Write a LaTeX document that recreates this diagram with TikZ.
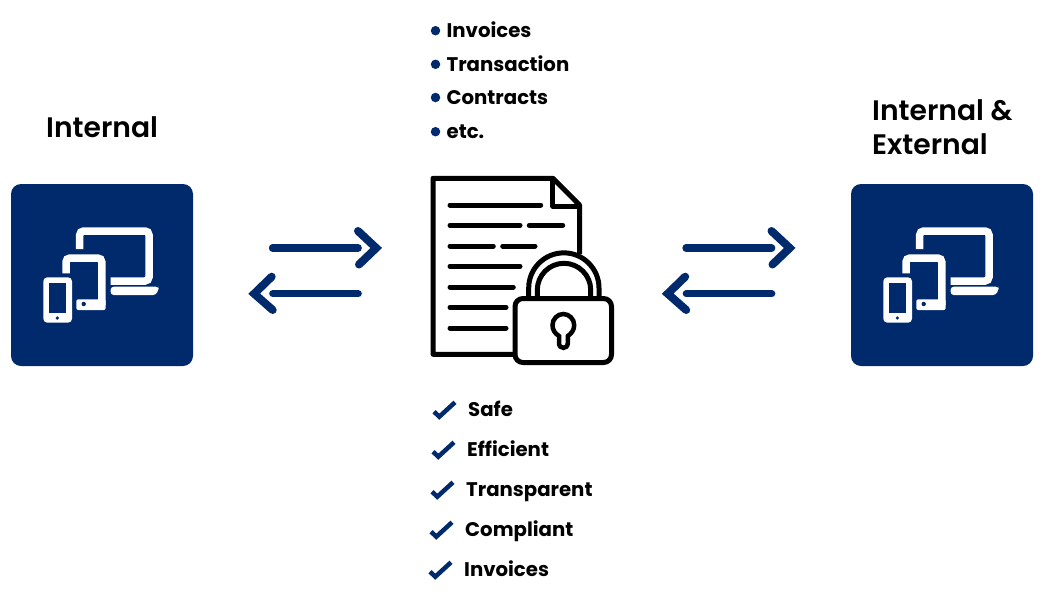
\documentclass[tikz,border=0pt]{standalone}
\usepackage{fontspec}
\setmainfont{Poppins}
\newfontfamily\titlefont{Poppins SemiBold}
\usetikzlibrary{positioning}
\definecolor{navy}{HTML}{002A6C}

\tikzset{
    devices/.pic={
        % Laptop
        \draw[white, line width=7.5pt, rounded corners=4pt] (-22.3,-26) -- (-22.3,-44) -- (47,-44) -- (47,6) -- (8.7,6);
        \fill[white, rounded corners=3pt] (8.7,11.7) -- (56.7,11.7) -- (56.7,14) -- (54,20) -- (8.7,20) -- cycle;
        % Tablet
        \draw[white, line width=7.5pt, rounded corners=4pt] (-36,-1.7) -- (-36,-17) -- (-0.2,-17) -- (-0.2,30);
        \fill[white, rounded corners=2pt] (-25.7,24.3) rectangle (3.7,35);
        \fill[navy] (-18.3,29) circle (2.2pt);
        % Phone
        \fill[white, rounded corners=4pt] (-58.7,2.3) rectangle (-30,47.7);
        \fill[navy] (-52.7,8.3) rectangle (-36,38.3);
        \fill[navy] (-44.7,43) circle (1.8pt);
    }
}

\begin{document}
\begin{tikzpicture}[
    x=1pt, y=-1pt,
    devicebox/.style={fill=navy, minimum size=182pt, rounded corners=10pt, inner sep=0pt},
    titletext/.style={font=\titlefont\fontsize{28.2}{34}\selectfont, align=left, inner sep=0pt, anchor=west},
    itemtext/.style={font=\bfseries\fontsize{19.7}{24}\selectfont, inner sep=0pt, text height=14pt, text depth=0pt, anchor=west},
    bulletdot/.style={circle, fill=navy, minimum size=9.5pt, inner sep=0pt},
    shaft/.style={navy, line width=7.3pt, line cap=round},
    chevron/.style={navy, line width=8pt, line cap=round, miter limit=10},
    docline/.style={line width=5pt, line cap=round},
    outline/.style={line width=5pt, line join=round},
    checkmark/.style={navy, line width=4.5pt, line join=miter}
]
\useasboundingbox (0,0) rectangle (1044,608);

% Device boxes
\node[devicebox] (internalbox) at (102,275) {};
\node[devicebox] (externalbox) at (942,275) {};
\pic at (internalbox) {devices};
\pic at (externalbox) {devices};

% Titles
\node[titletext] (internal) at (46,127) {Internal};
\node[titletext] (external) at (872,127) {Internal \&\\External};

% Double arrows
\foreach \dx/\name in {0/left, 413.5/right} {
    \coordinate (\name a) at (272.5+\dx,248);
    \coordinate (\name b) at (358.2+\dx,248);
    \coordinate (\name c) at (358.2+\dx,293.7);
    \coordinate (\name d) at (272.8+\dx,293.7);
    \draw[shaft] (\name a) -- (\name b);
    \draw[shaft] (\name c) -- (\name d);
    \draw[chevron] (358+\dx,231) -- (376.2+\dx,248) -- (359+\dx,264.5);
    \draw[chevron] (271.7+\dx,276.7) -- (254.2+\dx,293.7) -- (272.7+\dx,310);
}

% Bullet list
\foreach \y/\name/\txt in {30.7/b1/Invoices, 64.3/b2/Transaction, 97.5/b3/Contracts, 131.7/b4/etc.} {
    \node[bulletdot] (\name) at (435.5,\y) {};
    \node[itemtext, right=6pt of \name] (\name text) {\txt};
}

% Document
\draw[outline] (515,354.3) -- (433,354.3) -- (433,178.3) -- (553,178.3) -- (579.5,205) -- (579.5,254);
\draw[outline] (552.7,178.3) -- (552.7,206) -- (579.5,206);

% Text lines on the document
\foreach \ya/\xa/\xb in {205/450/540.7, 225.3/450/520, 225.3/529.3/562.7, 246/450/493.3, 246/502.7/535,
                         266.3/450/520, 287/450/513.3, 307.3/450/506, 328/450/506}
    \draw[docline] (\xa,\ya) -- (\xb,\ya);

% Padlock
\draw[outline, fill=white] (528.7,298) -- (528.7,288) arc[start angle=180, end angle=360, radius=35.15] -- (599,298);
\draw[outline] (537.3,298) -- (537.3,290) arc[start angle=180, end angle=360, radius=26.7] -- (590.7,298);
\draw[outline, fill=white, rounded corners=8pt] (515,298.5) rectangle (611.5,362.5);
\draw[line width=4.5pt] (559,343) -- (559,336) .. controls (555,333.5) and (552.5,330) .. (552.5,325)
    .. controls (552.5,319) and (557.5,314) .. (563.3,314) .. controls (569,314) and (574.2,319) .. (574.2,325)
    .. controls (574.2,330) and (571.5,333.5) .. (567.8,336) -- (567.8,343)
    .. controls (567.8,349.5) and (559,349.5) .. (559,343) -- cycle;

% Check list
\foreach \i/\name/\txt in {0/c1/Safe, 1/c2/Efficient, 2/c3/Transparent, 3/c4/Compliant, 4/c5/Invoices} {
    \draw[checkmark] (434-\i,411.7+40*\i) -- (439.3-\i,416.7+40*\i) -- (455-\i,402.3+40*\i);
    \node[itemtext] (\name) at (468-\i,409+40*\i) {\txt};
}

\end{tikzpicture}
\end{document}
